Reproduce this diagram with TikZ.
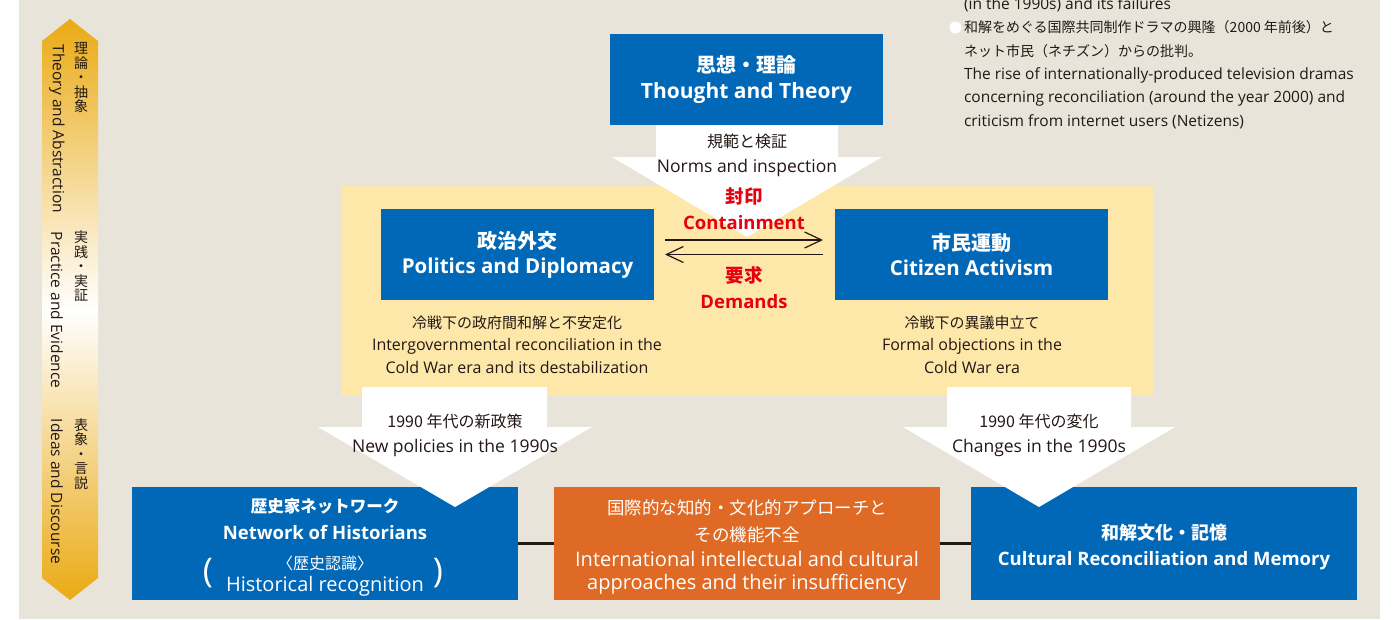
\documentclass[tikz,border=0pt]{standalone}
\usepackage{fontspec}
\setmainfont{Open Sans}
\newfontfamily\jp{Noto Sans CJK JP}
\usetikzlibrary{arrows.meta}
\definecolor{bgbeige}{RGB}{232,228,218}
\definecolor{boxblue}{RGB}{0,104,183}
\definecolor{boxorange}{RGB}{223,106,38}
\definecolor{panelyellow}{RGB}{253,232,169}
\definecolor{bargold}{RGB}{234,170,20}
\definecolor{inkred}{RGB}{230,0,18}
\definecolor{ink}{RGB}{35,24,21}
\tikzset{
  bluebox/.style={fill=boxblue, text=white, align=center, minimum width=273pt, minimum height=91pt},
  wide/.style={minimum width=386pt, minimum height=113pt},
  boxtext/.style={text=white, align=center},
  titlefont/.style={font=\fontsize{20.5}{25}\selectfont\bfseries},
  note/.style={text=ink, align=center, font=\fontsize{16}{22.5}\selectfont},
  arrowlbl/.style={text=ink, align=center, font=\fontsize{17.5}{25}\selectfont},
  redlbl/.style={text=inkred, align=center, font=\fontsize{18.5}{26}\selectfont\bfseries},
  barlabel/.style={text=ink, font=\fontsize{15.5}{16}\selectfont},
  barjp/.style={text=ink, align=center, font=\jp\fontsize{14}{14.5}\selectfont},
  blockarrow/.style={fill=white},
  pairarrow/.style={draw=ink, line width=1.2pt, -{Straight Barb[length=17pt,width=16pt]}},
  linkline/.style={draw=ink, line width=3pt}
}
\begin{document}
\begin{tikzpicture}[x=1pt, y=-1pt, every node/.style={inner sep=0pt, outer sep=0pt}]
\useasboundingbox (0,0) rectangle (1397,619);
\fill[white] (0,0) rectangle (1397,619);
\fill[bgbeige] (19,0) rectangle (1380,619);

\shade[top color=bargold, bottom color=bargold, middle color=white] (42,41) -- (70,19) -- (98,41) -- (98,578) -- (70,600) -- (42,578) -- cycle;
\node[barlabel, rotate=-90] (theorylbl) at (57,129) {Theory and Abstraction};
\node[barlabel, rotate=-90] (practicelbl) at (57,310) {Practice and Evidence};
\node[barlabel, rotate=-90] (ideaslbl) at (57,491.5) {Ideas and Discourse};
\node[barjp] (theoryjp) at (81,78) {理\\論\\・\\抽\\象};
\node[barjp] (practicejp) at (81,266.5) {実\\践\\・\\実\\証};
\node[barjp] (ideasjp) at (81,454) {表\\象\\・\\言\\説};

\node[circle, fill=white, minimum size=12pt] (bullet) at (955.5,27.5) {};
\node[text=ink, align=left, anchor=west, font=\fontsize{15.5}{23.4}\selectfont] (dramanote) at (964,63) {(in the 1990s) and its failures\\{\jp\fontsize{14}{23.4}\selectfont 和解をめぐる国際共同制作ドラマの興隆（2000 年前後）と}\\{\jp\fontsize{14}{23.4}\selectfont ネット市民（ネチズン）からの批判。}\\The rise of internationally-produced television dramas\\concerning reconciliation (around the year 2000) and\\criticism from internet users (Netizens)};

\fill[panelyellow] (341,186) rectangle (1153,396);

\fill[blockarrow] (656,100) -- (838,100) -- (838,157) -- (882,157) -- (747,237) -- (612,157) -- (656,157) -- cycle;
\node[arrowlbl] (normlbl) at (747,155) {{\jp\fontsize{16}{25}\selectfont 規範と検証}\\Norms and inspection};

\node[bluebox, titlefont] (thought) at (746.5,79.5) {{\jp\fontsize{20}{26}\selectfont 思想・理論}\\[1pt]{\fontsize{21}{26}\selectfont Thought and Theory}};
\node[bluebox, titlefont] (pol) at (517.5,254.5) {{\jp\fontsize{20}{25}\selectfont 政治外交}\\Politics and Diplomacy};
\node[bluebox, titlefont] (cit) at (971.5,254.5) {{\jp\fontsize{20}{25}\selectfont 市民運動}\\Citizen Activism};

\draw[pairarrow] ([xshift=11pt,yshift=14.5pt]pol.east) -- node[redlbl, above=10pt] (contain) {{\jp 封印}\\Containment} ([xshift=-12pt,yshift=14.5pt]cit.west);
\draw[pairarrow] ([xshift=-12pt]cit.west) -- node[redlbl, below=11.5pt] (demand) {{\jp 要求}\\Demands} ([xshift=11pt]pol.east);

\node[note] (polnote) at (517,344.5) {{\jp\fontsize{15}{22.5}\selectfont 冷戦下の政府間和解と不安定化}\\Intergovernmental reconciliation in the\\Cold War era and its destabilization};
\node[note] (citnote) at (972,344.5) {{\jp\fontsize{15}{22.5}\selectfont 冷戦下の異議申立て}\\Formal objections in the\\Cold War era};

\node[bluebox, wide] (hist) at (325,543.5) {};
\node[boxtext, font=\fontsize{20}{22}\selectfont] (histtxt) at (325,547.5) {{\jp\bfseries\fontsize{16.5}{22}\selectfont 歴史家ネットワーク}\\[5pt]{\bfseries\fontsize{18.5}{22}\selectfont Network of Historians}\\[8pt]{\jp\fontsize{16}{22}\selectfont 〈歴史認識〉}\\Historical recognition};
\node[text=white, font=\fontsize{34}{34}\selectfont] (histlp) at (208,573) {(};
\node[text=white, font=\fontsize{34}{34}\selectfont] (histrp) at (438,573) {)};
\node[bluebox, wide, fill=boxorange] (intl) at (747,543.5) {};
\node[boxtext, font=\fontsize{20}{23}\selectfont] (intltxt) at (747,547) {{\jp\fontsize{17.5}{23}\selectfont 国際的な知的・文化的アプローチと}\\[4pt]{\jp\fontsize{17.5}{23}\selectfont その機能不全}\\[2pt]International intellectual and cultural\\approaches and their insufficiency};
\node[bluebox, wide] (memory) at (1164,543.5) {};
\node[boxtext, font=\fontsize{18.5}{26}\selectfont\bfseries] (memorytxt) at (1164,547) {{\jp\fontsize{18}{26}\selectfont 和解文化・記憶}\\Cultural Reconciliation and Memory};

\draw[linkline] (hist) -- (intl);
\draw[linkline] (intl) -- (memory);

\fill[blockarrow] (362,387) -- (547,387) -- (547,427) -- (592,427) -- (455,507) -- (318,427) -- (362,427) -- cycle;
\node[arrowlbl] (newpol) at (455,435) {{\jp\fontsize{16}{25}\selectfont 1990 年代の新政策}\\New policies in the 1990s};
\fill[blockarrow] (947,387) -- (1131,387) -- (1131,427) -- (1175,427) -- (1039,507) -- (903,427) -- (947,427) -- cycle;
\node[arrowlbl] (change) at (1039,435) {{\jp\fontsize{16}{25}\selectfont 1990 年代の変化}\\Changes in the 1990s};
\end{tikzpicture}
\end{document}
